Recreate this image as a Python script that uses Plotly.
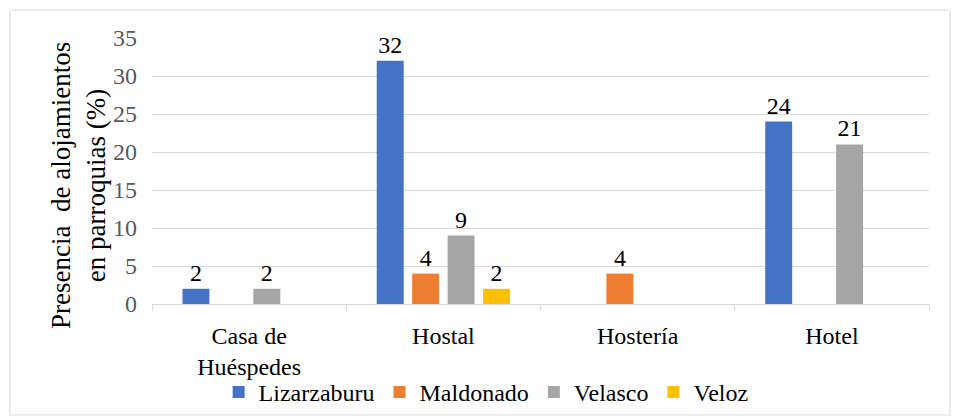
import plotly.graph_objects as go

categories = ["Casa de<br>Huéspedes", "Hostal", "Hostería", "Hotel"]
series_names = ["Lizarzaburu", "Maldonado", "Velasco", "Veloz"]
lizarzaburu = [2, 32, 0, 24]
maldonado = [0, 4, 4, 0]
velasco = [2, 9, 0, 21]
veloz = [0, 2, 0, 0]
y_ticks = [0, 5, 10, 15, 20, 25, 30, 35]
colors = ["#4472C4", "#ED7D31", "#A5A5A5", "#FFC000"]
y_title = "Presencia  de alojamientos<br>en parroquias (%)"

FONT = "Times New Roman, Liberation Serif, serif"

fig = go.Figure()
for name, vals, col in zip(series_names, [lizarzaburu, maldonado, velasco, veloz], colors):
    fig.add_trace(go.Bar(
        name=name, x=categories, y=vals,
        marker=dict(color=col, line=dict(width=0)),
        text=[str(v) if v else "" for v in vals],
        textposition="outside",
        textfont=dict(family=FONT, size=24, color="#000000"),
        cliponaxis=False,
    ))

fig.update_layout(
    width=954, height=419,
    margin=dict(l=152, r=25, t=38, b=115, autoexpand=False),
    paper_bgcolor="white", plot_bgcolor="white",
    barmode="group", bargap=0.27, bargroupgap=0.24,
    font=dict(family=FONT, size=22, color="#000000"),
    showlegend=True,
    legend=dict(orientation="h", x=0.43, xanchor="center", y=-0.248, yanchor="top",
                font=dict(family=FONT, size=24, color="#000000"),
                itemwidth=30, tracegroupgap=0, bgcolor="rgba(0,0,0,0)"),
    xaxis=dict(
        showgrid=False, showline=True, linecolor="#D9D9D9", linewidth=1,
        ticks="outside", tickson="boundaries", ticklen=6, tickcolor="#D9D9D9",
        tickfont=dict(family=FONT, size=24, color="#000000"),
        ticklabelstandoff=10, automargin=False,
    ),
    yaxis=dict(
        range=[0, 35], tickvals=y_ticks, showgrid=True, gridcolor="#D9D9D9", gridwidth=1,
        zeroline=False, showline=False, automargin=False,
        tickfont=dict(family=FONT, size=24, color="#595959"),
        ticklabelstandoff=14,
    ),
    annotations=[dict(text=y_title, xref="paper", yref="paper",
                      x=(78 - 152) / 777, y=(304 - 186) / 266,
                      xanchor="center", yanchor="middle", textangle=-90, showarrow=False,
                      font=dict(family=FONT, size=27, color="#000000"))],
    shapes=[dict(type="rect", xref="paper", yref="paper",
                 x0=(10 - 152) / 777, x1=(950 - 152) / 777,
                 y0=(304 - 415) / 266, y1=(304 - 10) / 266,
                 line=dict(color="#D9D9D9", width=1), fillcolor="rgba(0,0,0,0)", layer="below")],
)

fig.write_html("out.html", config={"displayModeBar": False},
               post_script="document.body.style.margin='0';document.body.style.overflow='hidden';")
